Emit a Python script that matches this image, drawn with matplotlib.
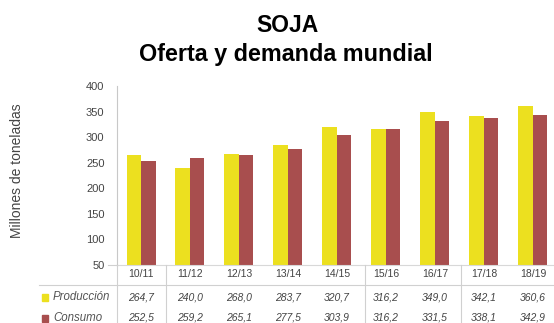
import matplotlib.pyplot as plt
import matplotlib.transforms as mtransforms
import numpy as np

# campañas y series (millones de toneladas)
campanas = ['10/11', '11/12', '12/13', '13/14', '14/15', '15/16', '16/17', '17/18', '18/19']
produccion = [264.7, 240.0, 268.0, 283.7, 320.7, 316.2, 349.0, 342.1, 360.6]
consumo = [252.5, 259.2, 265.1, 277.5, 303.9, 316.2, 331.5, 338.1, 342.9]
series = ['Producción', 'Consumo']
colores = ['#ECE01F', '#A84E4E']

plt.rcParams['font.family'] = ['Liberation Sans', 'DejaVu Sans']

W, H = 554, 323
fig = plt.figure(figsize=(W / 100, H / 100), dpi=100)
ax = fig.add_axes([117 / W, 1 - 265 / H, 436 / W, 179 / H])

x = np.arange(len(campanas))
w = 0.296
base = 50
ax.bar(x - w / 2, np.array(produccion) - base, w, bottom=base, color=colores[0])
ax.bar(x + w / 2, np.array(consumo) - base, w, bottom=base, color=colores[1])

ax.set_xlim(-0.49, 8.41)
ax.set_ylim(50, 400)
ax.set_yticks(range(50, 401, 50))
ax.tick_params(axis='y', length=0, labelsize=8, colors='#444444', pad=9)
ax.set_xticks([])
for s in ['top', 'right']:
    ax.spines[s].set_visible(False)
ax.spines['left'].set_color('#C8C8C8')
ax.spines['bottom'].set_color('#D8D8D8')

fig.text(17 / W, 1 - 171 / H, 'Millones de toneladas', rotation=90, ha='center',
         va='center', fontsize=10, color='#444444')

fig.text(287 / W, 1 - 26 / H, 'SOJA', ha='center', va='center', fontsize=16.5,
         fontweight='bold')
fig.text(286 / W, 1 - 55 / H, 'Oferta y demanda mundial', ha='center', va='center',
         fontsize=16.8, fontweight='bold')

# tabla de datos bajo el eje
trans = mtransforms.blended_transform_factory(ax.transData, fig.transFigure)
y_cab, y_prod, y_cons = 1 - 274 / H, 1 - 297 / H, 1 - 318 / H
for i, c in enumerate(campanas):
    ax.text(i, y_cab, c, transform=trans, ha='center', va='center', fontsize=7.5,
            color='#444444', clip_on=False)
    ax.text(i, y_prod, f'{produccion[i]:.1f}'.replace('.', ','), transform=trans,
            ha='center', va='center', fontsize=7.5, style='italic', color='#444444',
            clip_on=False)
    ax.text(i, y_cons, f'{consumo[i]:.1f}'.replace('.', ','), transform=trans,
            ha='center', va='center', fontsize=7.5, style='italic', color='#444444',
            clip_on=False)

for nombre, col, yy in zip(series, colores, [y_prod, y_cons]):
    fig.patches.append(plt.Rectangle((42 / W, yy - 3.5 / H), 6 / W, 7 / H,
                                     transform=fig.transFigure, color=col))
    fig.text(53 / W, yy, nombre, ha='left', va='center', fontsize=8.3,
             style='italic', color='#555555')

# líneas de la tabla
linea = dict(color='#D0D0D0', lw=0.8, transform=fig.transFigure)
fig.add_artist(plt.Line2D([39 / W, 1], [1 - 285 / H] * 2, **linea))
fig.add_artist(plt.Line2D([108 / W, 117 / W], [1 - 265 / H] * 2, **linea))
fig.add_artist(plt.Line2D([117 / W] * 2, [0, 1 - 265 / H], **linea))
for xv in [166, 365, 461]:
    fig.add_artist(plt.Line2D([xv / W] * 2, [0, 1 - 265 / H], **linea))

fig.savefig('out.png', dpi=100)
